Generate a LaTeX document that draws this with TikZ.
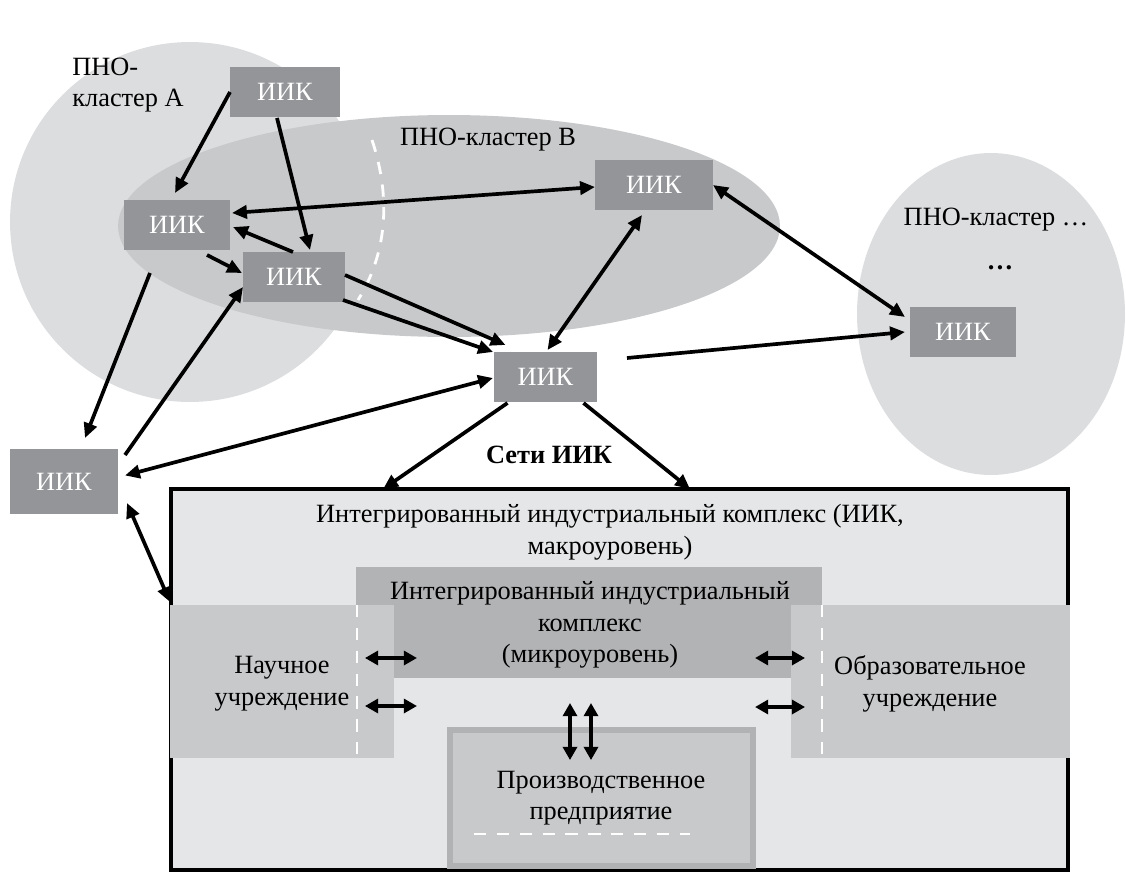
\documentclass[tikz,border=0pt]{standalone}
\usepackage{fontspec}
\setmainfont{LiberationSerif}[Extension=.ttf,UprightFont=*-Regular,BoldFont=*-Bold,ItalicFont=*-Italic,BoldItalicFont=*-BoldItalic]
\usepackage{tikz}
\usetikzlibrary{positioning}
\usetikzlibrary{arrows.meta,shapes}
\usetikzlibrary{calc}
\definecolor{clustA}{RGB}{220,221,223}
\definecolor{clustB}{RGB}{200,201,203}
\definecolor{iikgray}{RGB}{147,149,152}
\definecolor{macrogray}{RGB}{229,230,231}
\definecolor{microgray}{RGB}{178,179,181}
\definecolor{sidegray}{RGB}{200,201,203}
\definecolor{prodedge}{RGB}{177,178,180}
\newcommand{\dgmfont}{\rmfamily\fontsize{15}{18}\selectfont}
\tikzstyle{iik}=[rectangle,fill=iikgray,text=white,minimum height=1cm,inner sep=0pt,outer sep=0pt,font=\dgmfont]
\tikzstyle{area}=[inner sep=0pt,outer sep=0pt]
\tikzstyle{txt}=[font=\dgmfont,align=center,inner sep=0pt]
\tikzstyle{link}=[-{Triangle[length=8.5pt,width=7.5pt]},line width=2.1pt]
\tikzstyle{dlink}=[{Triangle[length=8.5pt,width=7.5pt]}-{Triangle[length=8.5pt,width=7.5pt]},line width=2.1pt]
\tikzstyle{xchg}=[{Triangle[length=7.5pt,width=8pt]}-{Triangle[length=7.5pt,width=8pt]},line width=1.8pt]
\tikzstyle{wdash}=[white,line width=1.6pt,dash pattern=on 7pt off 6pt]

\begin{document}
\begin{tikzpicture}[x=0.02cm,y=-0.02cm]
\useasboundingbox (0,0) rectangle (1126,872);

%clusters
    \node[area,circle,fill=clustA,minimum size=7.2cm] (clA) at (190,222) {};
    \node[area,ellipse,fill=clustA,minimum width=5.36cm,minimum height=6.44cm] (clN) at (991,314) {};
    \node[area,ellipse,fill=clustB,minimum width=13.24cm,minimum height=4.44cm] (clB) at (449,226) {};
    \draw[wdash] (372,140) .. controls (392,200) and (386,255) .. (358,300);

    \node[txt,align=left,anchor=west] (labA) at (72,85) {ПНО-\\кластер А};
    \node[txt] (labB) at (488,140) {ПНО-кластер В};
    \node[txt] (labN) at (996,220) {ПНО-кластер …};
    \node[txt] (dots) at (1000,268) {\textbf{…}};

%iik nodes
    \foreach \pos/\name/\w/\h in {{(285,92)/A1/2.2/1}, {(177,225)/A2/2.12/1}, {(294,277)/A3/2.04/1}, {(654,185)/B1/2.36/1}, {(545.5,377)/C/2.06/1}, {(963,332)/D/2.12/1}, {(64,481.5)/E/2.16/1.3}}
        \node[iik,minimum width=\w cm,minimum height=\h cm] (\name) at \pos {ИИК};

%macro level
    \node[area,draw=black,line width=2.4pt,fill=macrogray,minimum width=17.94cm,minimum height=7.62cm] (macro) at (619.5,679.5) {};
    \node[txt] (macrotitle) at (610,532) {Интегрированный индустриальный комплекс (ИИК,\\макроуровень)};
    \node[area,fill=microgray,minimum width=9.32cm,minimum height=2.22cm] (micro) at (589,622.5) {};
    \node[area,fill=sidegray,minimum width=4.48cm,minimum height=3.06cm] (sci) at (282,681.5) {};
    \node[area,fill=sidegray,minimum width=5.58cm,minimum height=3.06cm] (edu) at (930.5,681.5) {};
    \node[area,draw=prodedge,line width=3.4pt,fill=sidegray,minimum width=6.06cm,minimum height=2.72cm] (prod) at (601.5,798) {};
    \draw[wdash] (357,605) -- (357,758);
    \draw[wdash] (822,605) -- (822,758);
    \draw[wdash] (474,834) -- (690,834);

    \node[txt] (microtxt) at (590,625) {Интегрированный индустриальный\\комплекс\\(микроуровень)};
    \node[txt] (scitxt) at (282,684) {Научное\\учреждение};
    \node[txt] (edutxt) at (930,684) {Образовательное\\учреждение};
    \node[txt] (prodtxt) at (601,798) {Производственное\\предприятие};
    \node[txt,font=\dgmfont\bfseries] (net) at (549,455) {Сети ИИК};

%links
    \draw[link] (A1.west) -- ($(A2.north)+(-2,-7)$);
    \draw[link] ($(A1.south)+(-8,1)$) -- ($(A3.north)+(16,-2)$);
    \draw[dlink] ($(A2.east)+(2,-12)$) -- ($(B1.west)+(0,2)$);
    \draw[link] ($(A3.north)+(-1,0)$) -- ($(A2.east)+(3,2)$);
    \draw[link] ($(A2.south)+(30,5)$) -- ($(A3.west)+(-1,-4)$);
    \draw[link] ($(A2.south)+(-27,23)$) -- ($(E.north)+(21,-11)$);
    \draw[link] ($(E.north east)+(7,6)$) -- ($(A3.west)+(0,10)$);
    \draw[dlink] ($(E.east)+(7,-6)$) -- ($(C.west)+(-1,1)$);
    \draw[link] ($(A3.east)+(0,-2)$) -- ($(C.north)+(-40,-7)$);
    \draw[link] ($(A3.south east)+(-2,-2)$) -- ($(C.north west)+(-1,0)$);
    \draw[dlink] ($(C.north)+(2,-2)$) -- ($(B1.south)+(-12,5)$);
    \draw[dlink] (B1.east) -- ($(D.north west)+(-5,10)$);
    \draw[link] ($(C.east)+(30,-19)$) -- ($(D.west)+(-5,0)$);
    \draw[link] ($(C.south)+(-38,1)$) -- ($(macro.north west)+(212,0)$);
    \draw[link] ($(C.south)+(38,1)$) -- ($(macro.north west)+(519,0)$);
    \draw[dlink] ($(E.south east)+(9,-11)$) -- ($(sci.north west)+(0,-3)$);

%inner exchange
    \draw[xchg] ($(sci.east)+(-29,-23.5)$) -- ($(sci.east)+(23,-23.5)$);
    \draw[xchg] ($(sci.east)+(-29,24.5)$) -- ($(sci.east)+(23,24.5)$);
    \draw[xchg] ($(edu.west)+(-36,-23.5)$) -- ($(edu.west)+(14,-23.5)$);
    \draw[xchg] ($(edu.west)+(-36,25.5)$) -- ($(edu.west)+(14,25.5)$);
    \draw[xchg] ($(prod.north)+(-31.5,-27)$) -- ($(prod.north)+(-31.5,30)$);
    \draw[xchg] ($(prod.north)+(-10.5,-27)$) -- ($(prod.north)+(-10.5,30)$);

\end{tikzpicture}
\end{document}
